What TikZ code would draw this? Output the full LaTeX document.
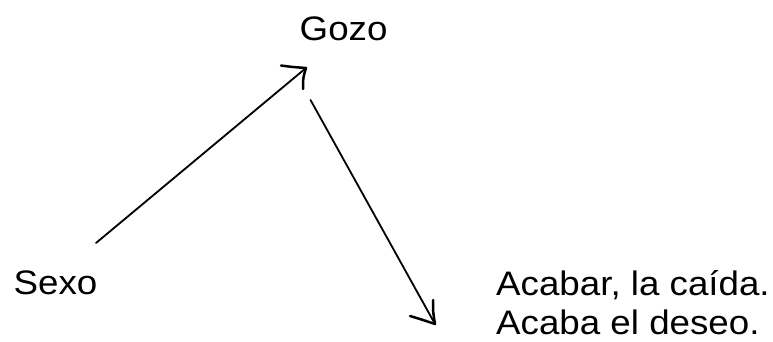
\documentclass[tikz,border=0pt]{standalone}
\usepackage{fontspec}
\setmainfont[FakeStretch=1.08]{Liberation Sans}
\begin{document}
\begin{tikzpicture}[x=1pt,y=-1pt,
  lbl/.style={anchor=base west,inner sep=0pt,text depth=0pt,font=\fontsize{34}{41}\selectfont},
  conn/.style={line width=1.8pt,line cap=round},
  head/.style={line width=2.5pt,line cap=round,line join=round}]
\useasboundingbox (0,0) rectangle (773,342);
\node[lbl] (gozo) at (299.5,41) {Gozo};
\node[lbl] (sexo) at (13.5,294.5) {Sexo};
\node[lbl] (acabar) at (496,295.5) {Acabar, la caída.};
\node[lbl] (deseo) at (496,334.5) {Acaba el deseo.};
\coordinate (s1) at (96,243);
\coordinate (t1) at (306,68);
\coordinate (s2) at (310.5,100);
\coordinate (t2) at (435,324);
\draw[conn] (s1) -- (t1);
\draw[head] (281,65.5) .. controls (292,67) .. (t1) .. controls (303,78) .. (303,89);
\draw[conn] (s2) -- (t2);
\draw[head] (433,300) .. controls (433,312) .. (t2) .. controls (420,319) .. (410,316);
\end{tikzpicture}
\end{document}
